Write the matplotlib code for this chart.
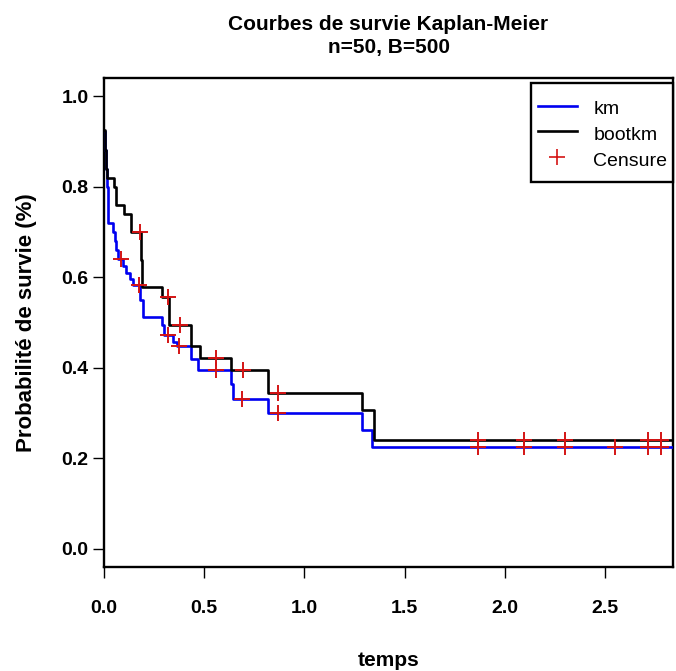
import matplotlib
matplotlib.use("Agg")
import matplotlib.pyplot as plt
from matplotlib.lines import Line2D
from matplotlib.patches import Rectangle
import numpy as np

plt.rcParams['font.family'] = ['Liberation Sans', 'DejaVu Sans']

# Kaplan-Meier estimate on the original sample
km_t = [0.003, 0.006, 0.009, 0.012, 0.015, 0.018, 0.022, 0.045, 0.054, 0.062,
        0.070, 0.095, 0.112, 0.129, 0.145, 0.18, 0.195, 0.287, 0.30, 0.345, 0.362,
        0.436, 0.47, 0.635, 0.643, 0.817, 1.287, 1.34]
km_s = [0.92, 0.88, 0.86, 0.84, 0.80, 0.76, 0.72, 0.70, 0.68, 0.66,
        0.64, 0.625, 0.61, 0.597, 0.583, 0.55, 0.513, 0.494, 0.472, 0.458, 0.447,
        0.42, 0.395, 0.365, 0.331, 0.30, 0.263, 0.224]

# bootstrap Kaplan-Meier (B=500)
boot_t = [0.002, 0.004, 0.006, 0.008, 0.010, 0.013, 0.016, 0.051, 0.058, 0.10,
          0.137, 0.183, 0.192, 0.287, 0.325, 0.436, 0.478, 0.635, 0.817, 1.29, 1.348]
boot_s = [0.925, 0.90, 0.88, 0.86, 0.84, 0.83, 0.82, 0.80, 0.76, 0.74,
          0.70, 0.638, 0.579, 0.557, 0.494, 0.447, 0.421, 0.395, 0.345, 0.307, 0.241]

# censored times
km_cens = [0.083, 0.175, 0.32, 0.375, 0.56, 0.69, 0.87, 1.866, 2.098, 2.302, 2.55, 2.716, 2.782]
boot_cens = [0.18, 0.32, 0.378, 0.56, 0.693, 0.867, 1.866, 2.098, 2.302, 2.716, 2.782]

t_end = 2.84


def surv_at(times, surv, t):
    idx = np.searchsorted(times, t, side='right') - 1
    return np.asarray(surv)[idx]


fig = plt.figure(figsize=(6.76, 6.71), dpi=100)
ax = fig.add_axes([104 / 676, 1 - 567 / 671, (673 - 104) / 676, (567 - 78) / 671])

blue = '#0000f0'
red = '#d41414'
ax.step(km_t + [t_end], km_s + [km_s[-1]], where='post', color=blue, lw=1.9, zorder=3)
ax.step(boot_t + [t_end], boot_s + [boot_s[-1]], where='post', color='black', lw=1.9, zorder=3)
ax.plot(km_cens, surv_at(km_t, km_s, km_cens), '+', color=red, ms=11, mew=1.4, zorder=4)
ax.plot(boot_cens, surv_at(boot_t, boot_s, boot_cens), '+', color=red, ms=11, mew=1.4, zorder=4)

ax.set_xlim(0, t_end)
ax.set_ylim(-0.04, 1.04)
ax.set_xticks(np.arange(0, 2.51, 0.5))
ax.set_yticks(np.arange(0, 1.01, 0.2))
ax.set_xticklabels(['%.1f' % v for v in np.arange(0, 2.51, 0.5)])
ax.set_yticklabels(['%.1f' % v for v in np.arange(0, 1.01, 0.2)])
for lab in ax.get_xticklabels() + ax.get_yticklabels():
    lab.set_fontweight('bold')
    lab.set_fontsize(14)
ax.tick_params(axis='x', length=8, width=1, pad=16)
ax.tick_params(axis='y', length=8, width=1, pad=3)
for sp in ax.spines.values():
    sp.set_linewidth(1.7)

ax.set_xlabel('temps', fontsize=15, fontweight='bold', labelpad=24)
ax.set_ylabel('Probabilité de survie (%)', fontsize=16, fontweight='bold', labelpad=18)
ax.set_title('Courbes de survie Kaplan-Meier\nn=50, B=500', fontsize=15,
             fontweight='bold', pad=18, linespacing=1.25)

# legend box drawn separately so its padding can be set per side
ax.add_patch(Rectangle((0.750, 0.7873), 0.2496, 0.2025, transform=ax.transAxes,
                       fill=True, facecolor='white', edgecolor='black', lw=1.7,
                       zorder=5, clip_on=False))
handles = [Line2D([], [], color=blue, lw=1.9),
           Line2D([], [], color='black', lw=1.9),
           Line2D([], [], color=red, marker='+', ls='none', ms=12, mew=1.2)]
leg = ax.legend(handles, ['km', 'bootkm', 'Censure'], loc='upper left',
                bbox_to_anchor=(0.7627, 0.961), fontsize=14, frameon=False,
                borderaxespad=0, handlelength=2.0, handleheight=1.3, labelspacing=0.23,
                borderpad=0, handletextpad=0.85)
leg.set_zorder(6)

fig.savefig('out.png', dpi=100)
